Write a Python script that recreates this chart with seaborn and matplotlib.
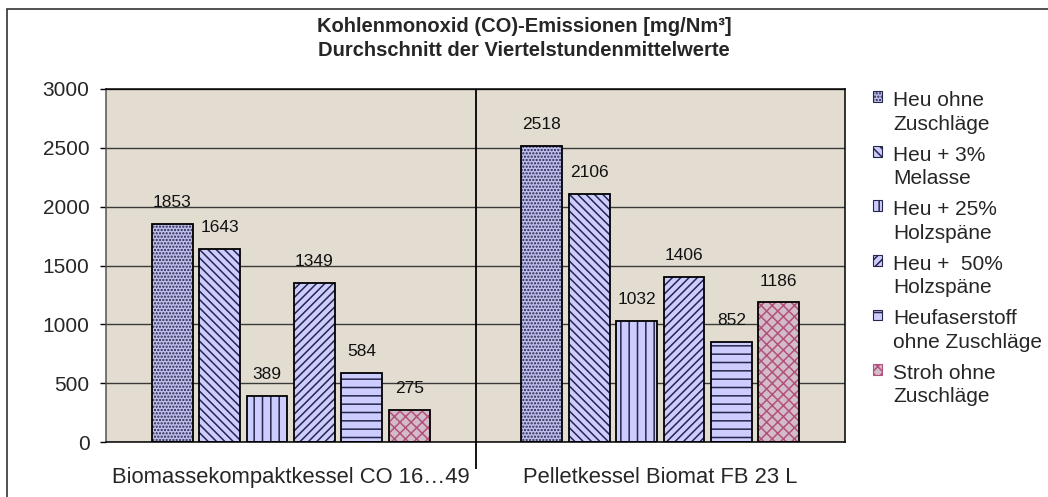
import numpy as np
import pandas as pd
import matplotlib
matplotlib.use("Agg")
import matplotlib.pyplot as plt
import seaborn as sns
from matplotlib.patches import Rectangle, Patch
from matplotlib.legend_handler import HandlerPatch

# ---- data ----
kessel = ["Biomassekompaktkessel CO 16…49", "Pelletkessel Biomat FB 23 L"]
brennstoffe = ["Heu ohne\nZuschläge", "Heu + 3%\nMelasse", "Heu + 25%\nHolzspäne",
               "Heu +  50%\nHolzspäne", "Heufaserstoff\nohne Zuschläge", "Stroh ohne\nZuschläge"]
werte_kompakt = [1853, 1643, 389, 1349, 584, 275]
werte_pellet = [2518, 2106, 1032, 1406, 852, 1186]
y_ticks = [0, 500, 1000, 1500, 2000, 2500, 3000]
titel1 = "Kohlenmonoxid (CO)-Emissionen [mg/Nm³]"
titel2 = "Durchschnitt der Viertelstundenmittelwerte"

# ---- styles ----
faces = ["#c0c0f0", "#ccccff", "#ccccff", "#ccccff", "#ccccff", "#d2bcc8"]
hatch_cols = ["#26264a", "#26264a", "#26264a", "#26264a", "#26264a", "#b4507e"]
hatches = [".....", "\\\\\\\\", "||", "////", "--", "xxx"]

df = pd.DataFrame({
    "Kessel": np.repeat(kessel, len(brennstoffe)),
    "Brennstoff": brennstoffe * len(kessel),
    "CO": werte_kompakt + werte_pellet,
})

sns.set_style("white")
plt.rcParams["font.family"] = ["Liberation Sans", "DejaVu Sans"]
plt.rcParams["hatch.linewidth"] = 1.1

W, H = 1048, 497
fig = plt.figure(figsize=(W / 100, H / 100), dpi=100)
ax = fig.add_axes([106 / W, 1 - 442 / H, (845 - 106) / W, (442 - 89) / H])
ax.set_facecolor("#e3ddd1")

sns.barplot(data=df, x="Kessel", y="CO", hue="Brennstoff", order=kessel,
            hue_order=brennstoffe, palette=dict(zip(brennstoffe, faces)),
            width=0.77, gap=0.14, errorbar=None, legend=False, ax=ax,
            saturation=1)

for i, cont in enumerate(ax.containers):
    for p in cont.patches:
        p.set_hatch(hatches[i])
        p.set_edgecolor(hatch_cols[i])
        p.set_linewidth(0)
        ax.add_patch(Rectangle(p.get_xy(), p.get_width(), p.get_height(),
                               fill=False, ec="black", lw=1.3, zorder=p.get_zorder() + 0.1))
    ax.bar_label(cont, fmt="%.0f", padding=10, fontsize=12.5, color="#111111")

ax.set_ylim(0, 3000)
ax.set_xlim(-0.5, 1.5)
ax.set_yticks(y_ticks)
ax.set_xlabel("")
ax.set_ylabel("")
ax.set_axisbelow(True)
ax.yaxis.grid(True, color="#3a3a3a", lw=1)
ax.xaxis.grid(False)
ax.axvline(0.5, color="black", lw=1.3, zorder=1)

for s in ax.spines.values():
    s.set_visible(True)
    s.set_color("black")
    s.set_linewidth(1.1)
ax.spines["left"].set_color("#555555")

ax.tick_params(axis="y", which="major", direction="out", length=4.3, width=1,
               pad=7.5, labelsize=15, left=True, color="black")
ax.tick_params(axis="x", which="major", length=0, pad=18, labelsize=15.8)
ax.set_xticks([0.5], minor=True)
ax.tick_params(axis="x", which="minor", direction="out", length=19.5, width=1.3,
               bottom=True, color="black")

fig.text(0.5, 1 - 27 / H, titel1, ha="center", va="center", fontsize=14.5, fontweight="bold")
fig.text(0.5, 1 - 50 / H, titel2, ha="center", va="center", fontsize=14.5, fontweight="bold")

fig.add_artist(Rectangle((7 / W, -0.2), 1.5, 1 - 9 / H + 0.2, transform=fig.transFigure,
                         fill=False, ec="#333333", lw=1.2))


def square(legend, orig_handle, xdescent, ydescent, width, height, fontsize):
    return Rectangle((-xdescent, -ydescent + fontsize * 0.75), width, height)


handles = [Patch(facecolor=faces[i], edgecolor=hatch_cols[i], hatch=hatches[i], lw=0.8)
           for i in range(len(brennstoffe))]
leg = fig.legend(handles, brennstoffe, loc="upper left", bbox_to_anchor=(873 / W, 1 - 91 / H),
                 frameon=False, fontsize=15, handlelength=0.42, handleheight=0.42,
                 handletextpad=0.55, labelspacing=0.58, borderpad=0, borderaxespad=0,
                 handler_map={Patch: HandlerPatch(patch_func=square)})
for t in leg.get_texts():
    t.set_linespacing(1.3)

fig.savefig("out.png", dpi=100)
